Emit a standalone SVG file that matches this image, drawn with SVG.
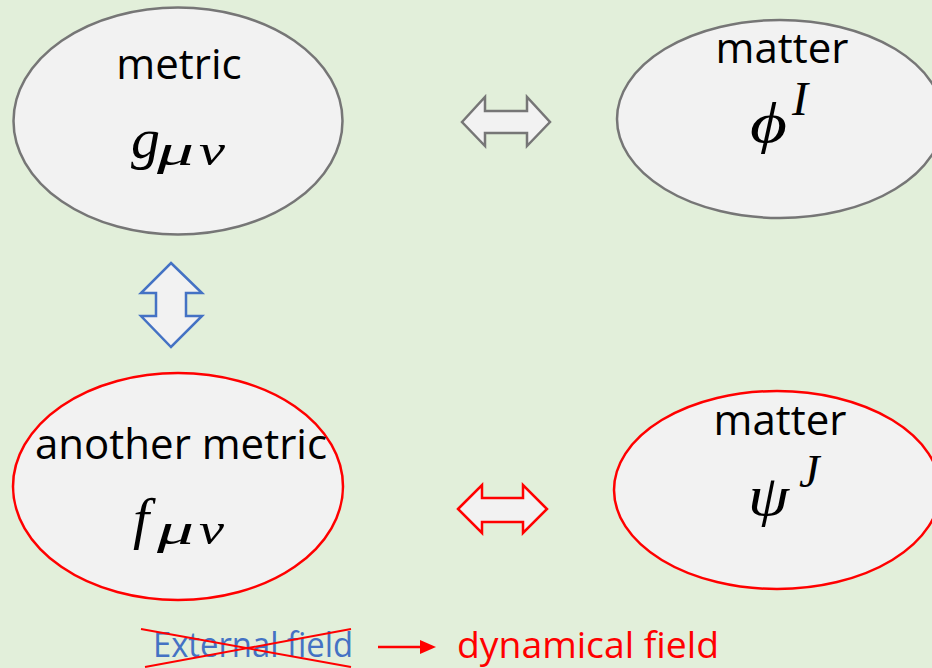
<svg xmlns="http://www.w3.org/2000/svg" width="932" height="668" viewBox="0 0 932 668">
<style>
.bg{fill:#e2efda}
.ell{fill:#f2f2f2;stroke-width:2.5}
.gray{stroke:#767676}
.red{stroke:#ff0000}
.lbl{font-family:"Open Sans","Noto Sans",sans-serif;font-size:42px;fill:#000;text-anchor:middle}
.m{font-family:"Liberation Serif","DejaVu Serif",serif;font-style:italic;font-weight:normal;fill:#000}
.arr{fill:#f2f2f2;stroke-width:2.5;stroke-linejoin:miter}
</style>
<rect class="bg" x="0" y="0" width="932" height="668"/>
<g id="metric">
<ellipse class="ell gray" cx="178" cy="121" rx="164.5" ry="113.5"/>
<text class="lbl" x="179" y="79">metric</text>
<text class="m" x="131" y="158" font-size="58">g</text>
<text class="m" x="157" y="165" font-size="44" textLength="37" lengthAdjust="spacingAndGlyphs">μ</text>
<text class="m" x="199" y="165" font-size="44" textLength="26" lengthAdjust="spacingAndGlyphs">ν</text>
</g>
<g id="matter-phi">
<ellipse class="ell gray" cx="780" cy="119" rx="163" ry="99"/>
<text class="lbl" x="782" y="63">matter</text>
<text class="m" x="750" y="142" font-size="58" textLength="37" lengthAdjust="spacingAndGlyphs">ϕ</text>
<text class="m" x="792" y="115" font-size="48">I</text>
</g>
<g id="another-metric">
<ellipse class="ell red" cx="178" cy="486.5" rx="165" ry="113.5"/>
<text class="lbl" x="181" y="459">another metric</text>
<text class="m" x="133" y="538" font-size="58">f</text>
<text class="m" x="157" y="544" font-size="44" textLength="37" lengthAdjust="spacingAndGlyphs">μ</text>
<text class="m" x="199" y="544" font-size="44" textLength="25" lengthAdjust="spacingAndGlyphs">ν</text>
</g>
<g id="matter-psi">
<ellipse class="ell red" cx="777" cy="490" rx="163" ry="99"/>
<text class="lbl" x="780" y="435">matter</text>
<text class="m" x="748" y="515" font-size="58" textLength="41" lengthAdjust="spacingAndGlyphs">ψ</text>
<text class="m" x="799" y="487" font-size="46">J</text>
</g>
<g id="connectors">
<polygon class="arr gray" points="462,122 485,97 485,111 527,111 527,97 550,122 527,146 527,133 485,133 485,146"/>
<polygon class="arr" stroke="#4472c4" points="171,263 202,293 186,293 186,316 202,316 171,347 141,316 156,316 156,293 141,293"/>
<polygon class="arr red" points="458,509 482,485 482,498 523,498 523,485 547,509 523,533 523,522 482,522 482,533"/>
<line x1="378" y1="647" x2="422" y2="647" stroke="#ff0000" stroke-width="2.5"/>
<polygon points="420,640 436,647 420,654" fill="#ff0000"/>
</g>
<g id="legend">
<text x="153" y="657" font-family="Open Sans,Noto Sans,sans-serif" font-size="34" fill="#4472c4" textLength="200" lengthAdjust="spacingAndGlyphs">External field</text>
<line x1="141" y1="629" x2="351" y2="667" stroke="#ff0000" stroke-width="2"/>
<line x1="145" y1="667" x2="351" y2="629" stroke="#ff0000" stroke-width="2"/>
<text x="457" y="658" font-family="Open Sans,Noto Sans,sans-serif" font-size="37" fill="#ff0000" textLength="262" lengthAdjust="spacingAndGlyphs">dynamical field</text>
</g>
</svg>
